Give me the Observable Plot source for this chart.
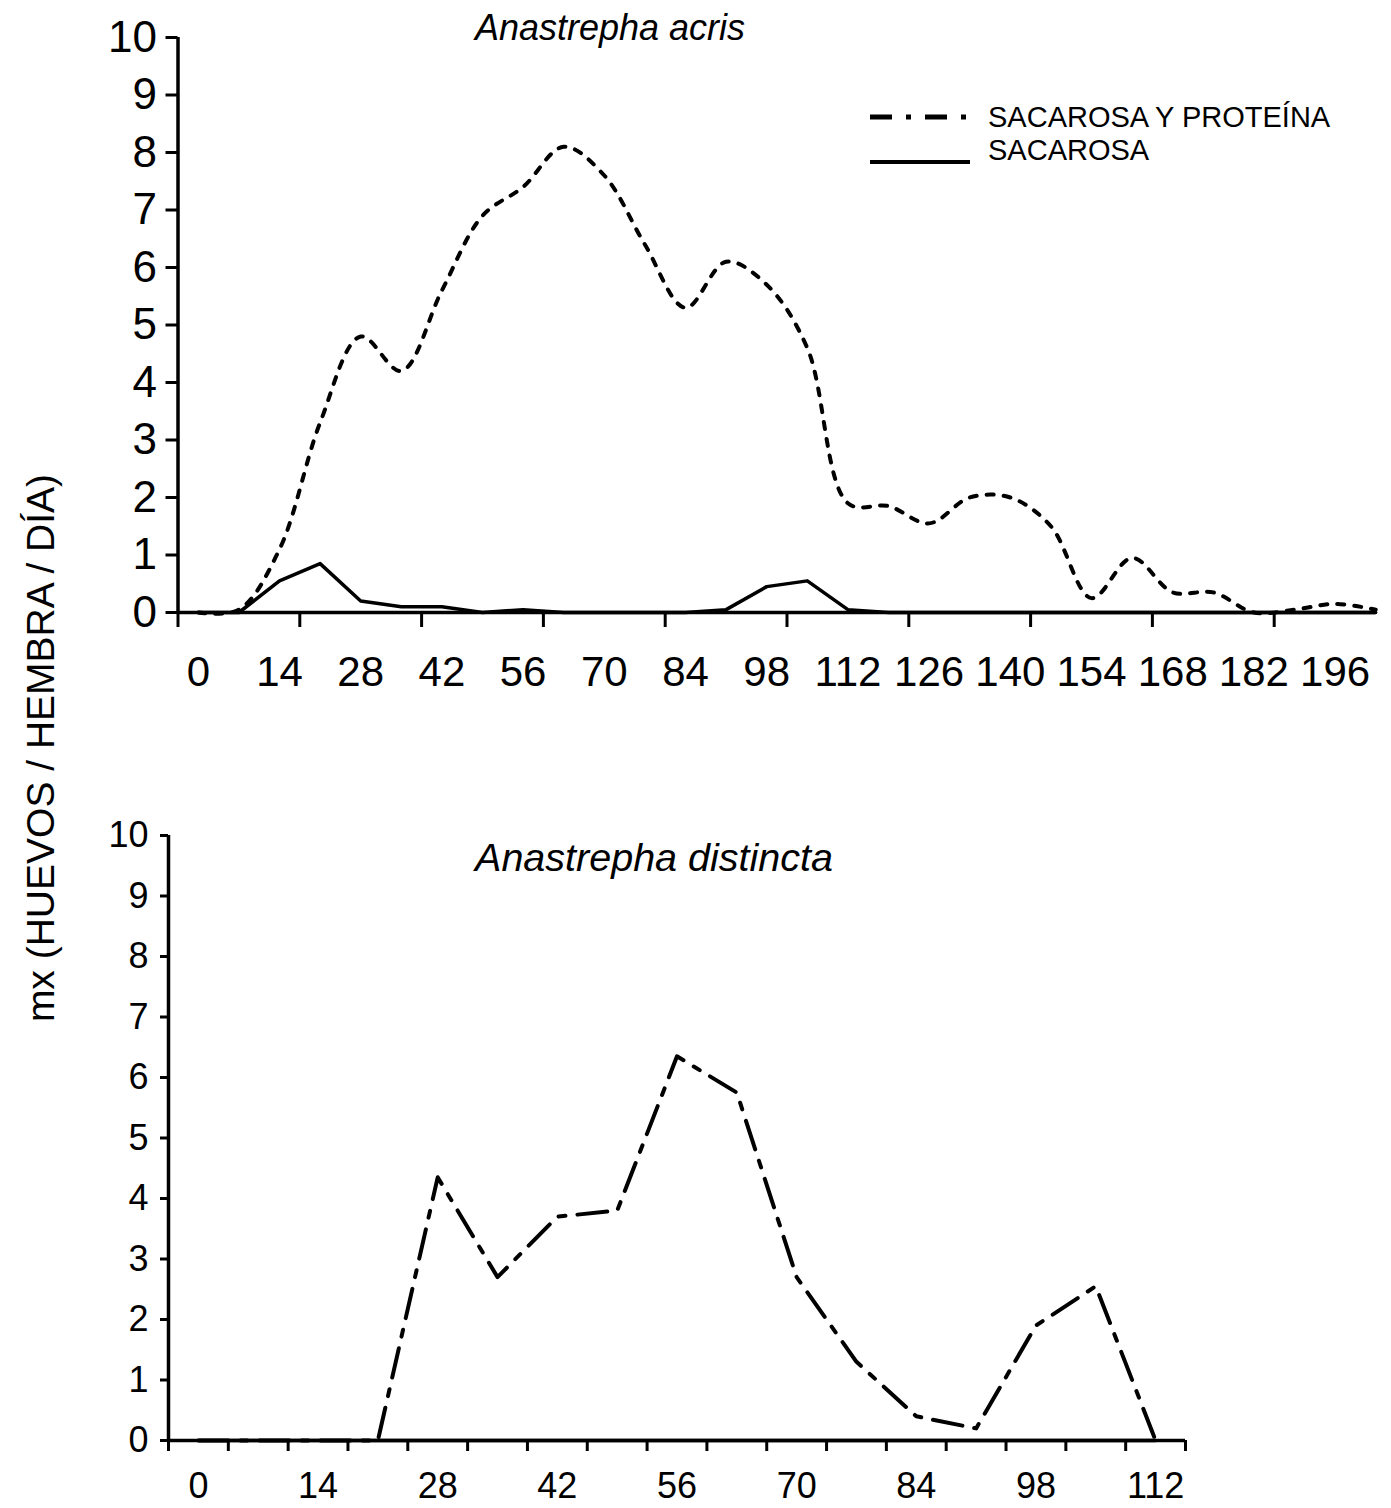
<!DOCTYPE html>
<html>
<head>
<meta charset="utf-8">
<script src="https://cdn.jsdelivr.net/npm/d3@7"></script>
<script src="https://cdn.jsdelivr.net/npm/@observablehq/plot@0.6"></script>
<style>
  body { margin: 0; background: #fff; font-family: "Liberation Sans", Arial, sans-serif; color: #000; }
  #wrap { position: relative; width: 1391px; height: 1508px; overflow: hidden; }
  #top { position: absolute; left: 0; top: 0; }
  #bottom { position: absolute; left: 0; top: 760px; }
  .title { position: absolute; font-style: italic; white-space: nowrap; transform: translate(-50%, -50%); }
  #ytitle { position: absolute; left: 41px; top: 748px; font-size: 39px; white-space: nowrap;
            transform: translate(-50%, -50%) rotate(-90deg); }
  #legend { position: absolute; left: 0; top: 0; }
</style>
</head>
<body>
<div id="wrap">
  <div id="top"></div>
  <div id="bottom"></div>
  <div class="title" style="left:610px; top:28px; font-size:36px;">Anastrepha acris</div>
  <div class="title" style="left:654px; top:857px; font-size:39.5px;">Anastrepha distincta</div>
  <div id="ytitle">mx (HUEVOS / HEMBRA / DÍA)</div>
  <svg id="legend" width="1391" height="200">
    <line x1="870" y1="117" x2="966" y2="117" stroke="#000" stroke-width="5" stroke-dasharray="22,14,5,14"></line>
    <text x="988" y="127" font-size="29" font-family="Liberation Sans, Arial, sans-serif">SACAROSA Y PROTEÍNA</text>
    <line x1="870" y1="162" x2="970" y2="162" stroke="#000" stroke-width="4"></line>
    <text x="988" y="160" font-size="29" font-family="Liberation Sans, Arial, sans-serif">SACAROSA</text>
  </svg>
</div>
<script>
// ---- Data ----
const acrisDays = [0,7,14,21,28,35,42,49,56,63,70,77,84,91,98,105,112,119,126,133,140,147,154,161,168,175,182,189,196,203];
const acrisSacarosaProteina = [0,0.05,1.1,3.3,4.8,4.2,5.6,6.9,7.4,8.1,7.6,6.4,5.3,6.1,5.7,4.6,1.9,1.85,1.55,2.0,2.0,1.5,0.25,0.95,0.35,0.35,0,0.05,0.15,0.05];
const acrisSacarosa = [0,0,0.55,0.85,0.2,0.1,0.1,0,0.05,0,0,0,0,0.05,0.45,0.55,0.05,0,0,0,0,0,0,0,0,0,0,0,0,0];

const distinctaDays = [0,7,14,21,28,35,42,49,56,63,70,77,84,91,98,105,112];
const distinctaSacarosaProteina = [0,0,0,0,4.35,2.7,3.7,3.8,6.35,5.75,2.7,1.3,0.4,0.2,1.9,2.55,0];
const distinctaSacarosa = [0,0,0,0,0,0,0,0,0,0,0,0,0,0,0,0,0];

const yTicks = [0,1,2,3,4,5,6,7,8,9,10];

// ---- Derived tables ----
const half = (acrisDays[1] - acrisDays[0]) / 2;
const acrisRows = acrisDays.map((d, i) => ({day: d, sp: acrisSacarosaProteina[i], s: acrisSacarosa[i]}));
const distRows = distinctaDays.map((d, i) => ({day: d, sp: distinctaSacarosaProteina[i], s: distinctaSacarosa[i]}));

const acrisLabelDays = acrisDays.filter((d, i) => i % 2 === 0);
const acrisTickBounds = acrisDays.filter((d, i) => i % 3 === 0).map(d => d - half);
const distLabelDays = distinctaDays.filter((d, i) => i % 2 === 0);
const distTickBounds = distinctaDays.map(d => d - half).concat([distinctaDays[distinctaDays.length - 1] + half]);

const font = "Liberation Sans, Arial, sans-serif";

const topPlot = Plot.plot({
  width: 1391,
  height: 700,
  marginLeft: 177.5,
  marginRight: 15.8,
  marginTop: 37,
  marginBottom: 88,
  // the chart is cut at the last sampled day
  x: {domain: [acrisDays[0] - half, acrisDays[acrisDays.length - 1]], axis: null},
  y: {domain: [0, 10], axis: null},
  style: {fontFamily: font, color: "#000", background: "#fff", overflow: "visible"},
  marks: [
    Plot.axisY(yTicks, {anchor: "left", tickSize: 12, tickPadding: 9, fontSize: 44, strokeWidth: 3, label: null, tickFormat: d => String(d)}),
    Plot.axisX(acrisTickBounds, {anchor: "bottom", tickSize: 15, strokeWidth: 3, tickFormat: () => "", label: null}),
    Plot.axisX(acrisLabelDays, {anchor: "bottom", tickSize: 0, tickPadding: 44, fontSize: 42, label: null, tickFormat: d => String(d)}),
    Plot.ruleX([acrisDays[0] - half], {y1: 0, y2: 10, strokeWidth: 3.5}),
    Plot.ruleY([0], {strokeWidth: 3.5}),
    Plot.line(acrisRows, {x: "day", y: "s", stroke: "#000", strokeWidth: 3.5}),
    Plot.line(acrisRows, {x: "day", y: "sp", stroke: "#000", strokeWidth: 4, curve: "catmull-rom", strokeDasharray: "7,10"})
  ]
});
document.getElementById("top").appendChild(topPlot);

const bottomPlot = Plot.plot({
  width: 1391,
  height: 748,
  marginLeft: 168,
  marginRight: 206,
  marginTop: 75,
  marginBottom: 68,
  x: {domain: [distinctaDays[0] - half, distinctaDays[distinctaDays.length - 1] + half], axis: null},
  y: {domain: [0, 10], axis: null},
  style: {fontFamily: font, color: "#000", background: "#fff", overflow: "visible"},
  marks: [
    Plot.axisY(yTicks, {anchor: "left", tickSize: 8, tickPadding: 12, fontSize: 36, strokeWidth: 3, label: null, tickFormat: d => String(d)}),
    Plot.axisX(distTickBounds, {anchor: "bottom", tickSize: 11, strokeWidth: 3, tickFormat: () => "", label: null}),
    Plot.axisX(distLabelDays, {anchor: "bottom", tickSize: 0, tickPadding: 32, fontSize: 36, label: null, tickFormat: d => String(d)}),
    Plot.ruleX([distinctaDays[0] - half], {y1: 0, y2: 10, strokeWidth: 3.5}),
    Plot.ruleY([0], {strokeWidth: 3.5}),
    Plot.line(distRows, {x: "day", y: "s", stroke: "#000", strokeWidth: 3.5}),
    Plot.line(distRows, {x: "day", y: "sp", stroke: "#000", strokeWidth: 4, strokeDasharray: "30,12,7,12"})
  ]
});
document.getElementById("bottom").appendChild(bottomPlot);
</script>
</body>
</html>
